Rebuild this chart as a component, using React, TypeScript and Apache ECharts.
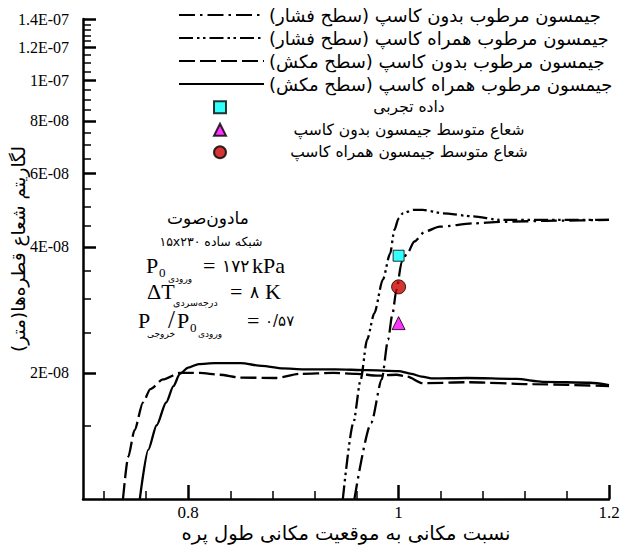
import React, { useEffect, useRef } from "react";
import * as echarts from "echarts";

// ---- data (x = spatial ratio, y = droplet radius in metres) ----
const xNoCuspPressure = [0.958, 0.974, 0.984, 0.990, 0.994, 0.998, 1.003, 1.008, 1.015, 1.025, 1.039, 1.071, 1.096, 1.150, 1.200];
const yNoCuspPressure = [1.0e-8, 1.52e-8, 1.93e-8, 2.40e-8, 2.75e-8, 3.16e-8, 3.69e-8, 3.85e-8, 4.12e-8, 4.35e-8, 4.47e-8, 4.55e-8, 4.59e-8, 4.62e-8, 4.64e-8];

const xCuspPressure = [0.947, 0.957, 0.964, 0.970, 0.977, 0.985, 0.992, 0.996, 1.000, 1.004, 1.014, 1.023, 1.042, 1.071, 1.096, 1.200];
const yCuspPressure = [1.0e-8, 1.52e-8, 1.93e-8, 2.40e-8, 2.78e-8, 3.34e-8, 3.86e-8, 4.39e-8, 4.68e-8, 4.81e-8, 4.90e-8, 4.90e-8, 4.81e-8, 4.73e-8, 4.64e-8, 4.64e-8];

const xNoCuspSuction = [0.738, 0.743, 0.749, 0.757, 0.764, 0.776, 0.792, 0.811, 0.830, 0.849, 0.884, 0.906, 0.938, 0.960, 0.980, 0.998, 1.008, 1.023, 1.065, 1.128, 1.200];
const yNoCuspSuction = [1.0e-8, 1.26e-8, 1.46e-8, 1.70e-8, 1.83e-8, 1.93e-8, 2.0e-8, 2.0e-8, 1.98e-8, 1.95e-8, 1.945e-8, 1.99e-8, 2.0e-8, 1.99e-8, 1.97e-8, 1.98e-8, 1.96e-8, 1.89e-8, 1.90e-8, 1.88e-8, 1.86e-8];

const xCuspSuction = [0.754, 0.762, 0.770, 0.779, 0.786, 0.792, 0.800, 0.810, 0.825, 0.850, 0.870, 0.890, 0.910, 0.940, 0.970, 1.000, 1.012, 1.022, 1.033, 1.065, 1.112, 1.137, 1.182, 1.200];
const yCuspSuction = [1.0e-8, 1.31e-8, 1.50e-8, 1.70e-8, 1.86e-8, 1.99e-8, 2.06e-8, 2.10e-8, 2.11e-8, 2.11e-8, 2.08e-8, 2.05e-8, 2.04e-8, 2.04e-8, 2.03e-8, 2.02e-8, 1.99e-8, 1.96e-8, 1.94e-8, 1.945e-8, 1.935e-8, 1.905e-8, 1.895e-8, 1.87e-8];

const expX = [1.0];
const expY = [3.81e-8];
const avgNoCuspX = [1.0];
const avgNoCuspY = [2.63e-8];
const avgCuspX = [1.0];
const avgCuspY = [3.21e-8];

const xMajorTicks = [0.8, 1.0, 1.2];
const xMinorTicks = [0.72, 0.76, 0.84, 0.88, 0.92, 0.96, 1.04, 1.08, 1.12, 1.16];
const yMajorTicks = [2e-8, 4e-8, 6e-8, 8e-8, 1e-7, 1.2e-7, 1.4e-7];
const yTickLabels = ["2E-08", "4E-08", "6E-08", "8E-08", "1E-07", "1.2E-07", "1.4E-07"];
const yMinorTicks = [1.5e-8, 2.5e-8, 3e-8, 3.5e-8, 4.5e-8, 5e-8, 5.5e-8, 6.5e-8, 7e-8, 7.5e-8, 8.5e-8, 9e-8, 9.5e-8, 1.05e-7, 1.1e-7, 1.15e-7, 1.24e-7, 1.28e-7, 1.32e-7, 1.36e-7];

const names = {
  noCuspPressure: "جیمسون مرطوب بدون کاسپ (سطح فشار)",
  cuspPressure: "جیمسون مرطوب همراه کاسپ (سطح فشار)",
  noCuspSuction: "جیمسون مرطوب بدون کاسپ (سطح مکش)",
  cuspSuction: "جیمسون مرطوب همراه کاسپ (سطح مکش)",
  exp: "داده تجربی",
  avgNoCusp: "شعاع متوسط جیمسون بدون کاسپ",
  avgCusp: "شعاع متوسط جیمسون همراه کاسپ",
};

const SERIF = "Liberation Serif, Times New Roman, DejaVu Serif, serif";
const FA = "DejaVu Sans";
const rtl = (s: string) => "\u202B" + s + "\u202C";

const pairs = (xs: number[], ys: number[]) => xs.map((x, i) => [x, ys[i]]);

export default function App() {
  const ref = useRef<HTMLDivElement>(null);
  useEffect(() => {
    if (!ref.current) return;
    const chart = echarts.init(ref.current, undefined, { renderer: "svg" });
    const lineBase = (name: string, xs: number[], ys: number[], type: any) => ({
      name,
      type: "line",
      data: pairs(xs, ys),
      symbol: "none",
      smooth: 0.25,
      smoothMonotone: "x",
      xAxisIndex: 0,
      yAxisIndex: 0,
      lineStyle: { color: "#000", width: 2.3, type },
      itemStyle: { color: "#000" },
      z: 3,
    });
    const txt = (text: string, x: number, y: number, size: number, family: string, align = "left") => ({
      type: "text",
      x,
      y,
      style: { text, fill: "#000", fontSize: size, fontFamily: family, textAlign: align, textVerticalAlign: "middle" },
      z: 10,
    });
    const labelFor = (v: number) => {
      const i = yMajorTicks.findIndex((t) => Math.abs(t - v) / t < 1e-6);
      return i >= 0 ? yTickLabels[i] : "";
    };
    chart.setOption({
      animation: false,
      backgroundColor: "#fff",
      textStyle: { fontFamily: SERIF, color: "#000" },
      grid: { left: 83, right: 11, top: 19, bottom: 47, containLabel: false, outerBoundsMode: "none" },
      xAxis: [
        {
          type: "value",
          min: 0.7,
          max: 1.2,
          position: "bottom",
          axisLine: { show: true, onZero: false, lineStyle: { color: "#000", width: 2.5 } },
          axisTick: { show: true, inside: true, length: 14, customValues: xMajorTicks, lineStyle: { color: "#000", width: 2.5 } },
          axisLabel: { show: true, customValues: xMajorTicks, color: "#000", fontFamily: SERIF, fontSize: 17, margin: 5 },
          splitLine: { show: false },
          name: rtl("نسبت مکانی به موقعیت مکانی طول پره"),
          nameLocation: "middle",
          nameGap: 24,
          nameMoveOverlap: false,
          nameTextStyle: { color: "#000", fontFamily: FA, fontSize: 19.5 },
        },
        {
          type: "value",
          min: 0.7,
          max: 1.2,
          position: "bottom",
          axisLine: { show: false, onZero: false },
          axisTick: { show: true, inside: true, length: 8, customValues: xMinorTicks, lineStyle: { color: "#000", width: 1.5 } },
          axisLabel: { show: false },
          splitLine: { show: false },
        },
      ],
      yAxis: [
        {
          type: "log",
          logBase: 10,
          min: 1e-8,
          max: 1.4e-7,
          position: "left",
          axisLine: { show: true, onZero: false, lineStyle: { color: "#000", width: 2.5 } },
          axisTick: { show: true, inside: true, length: 13, customValues: yMajorTicks, lineStyle: { color: "#000", width: 2.5 } },
          axisLabel: { show: true, customValues: yMajorTicks, formatter: labelFor, color: "#000", fontFamily: SERIF, fontSize: 16, margin: 14 },
          splitLine: { show: false },
          minorTick: { show: false },
          name: rtl("لگاریتم شعاع قطره‌ها(متر)"),
          nameLocation: "middle",
          nameGap: 55,
          nameMoveOverlap: false,
          nameTextStyle: { color: "#000", fontFamily: FA, fontSize: 18.5, padding: [0, 0, 0, 20] },
        },
        {
          type: "log",
          logBase: 10,
          min: 1e-8,
          max: 1.4e-7,
          position: "left",
          axisLine: { show: false, onZero: false },
          axisTick: { show: true, inside: true, length: 8, customValues: yMinorTicks, lineStyle: { color: "#000", width: 1.5 } },
          axisLabel: { show: false },
          splitLine: { show: false },
        },
      ],
      legend: [
        {
          data: [names.noCuspPressure, names.cuspPressure, names.noCuspSuction, names.cuspSuction],
          orient: "vertical",
          left: 178,
          top: 3.5,
          padding: 0,
          itemGap: 0,
          itemWidth: 85,
          itemHeight: 14,
          selectedMode: false,
          itemStyle: { opacity: 0 },
          formatter: (n: string) => rtl(n),
          textStyle: { color: "#000", fontFamily: FA, fontSize: 18, lineHeight: 23 },
        },
        {
          data: [names.exp, names.avgNoCusp, names.avgCusp],
          orient: "vertical",
          left: 213,
          top: 96,
          padding: 0,
          itemGap: 0,
          itemWidth: 12,
          itemHeight: 12,
          selectedMode: false,
          formatter: (n: string) => "{c|" + rtl(n) + "}",
          textStyle: {
            color: "#000",
            fontFamily: FA,
            fontSize: 15.5,
            lineHeight: 22.5,
            rich: { c: { width: 356, align: "center", fontFamily: FA, fontSize: 15.5, lineHeight: 22.5, color: "#000" } },
          },
        },
      ],
      series: [
        lineBase(names.noCuspPressure, xNoCuspPressure, yNoCuspPressure, [16, 5, 2.5, 5]),
        lineBase(names.cuspPressure, xCuspPressure, yCuspPressure, [14, 4, 2.5, 3.5, 2.5, 4]),
        lineBase(names.noCuspSuction, xNoCuspSuction, yNoCuspSuction, [16, 5]),
        lineBase(names.cuspSuction, xCuspSuction, yCuspSuction, "solid"),
        {
          name: names.exp,
          type: "scatter",
          data: pairs(expX, expY),
          symbol: "rect",
          symbolSize: 11,
          itemStyle: { color: "#00FFFF", borderColor: "#000", borderWidth: 1 },
          z: 5,
        },
        {
          name: names.avgNoCusp,
          type: "scatter",
          data: pairs(avgNoCuspX, avgNoCuspY),
          symbol: "triangle",
          symbolSize: 13,
          itemStyle: { color: "#FF00FF", borderColor: "#000", borderWidth: 1 },
          z: 5,
        },
        {
          name: names.avgCusp,
          type: "scatter",
          data: pairs(avgCuspX, avgCuspY),
          symbol: "circle",
          symbolSize: 14,
          itemStyle: { color: "#CC0000", borderColor: "#000", borderWidth: 1 },
          z: 5,
        },
      ],
      graphic: [
        txt("مادون‌صوت", 208, 218, 17, FA, "center"),
        txt(rtl("شبکه ساده ۱۵x۲۳۰"), 211, 241, 12.5, FA, "center"),
        // P0 inlet = 172 kPa
        txt("P", 146, 265, 22, SERIF),
        txt("0", 159, 272, 13, SERIF),
        txt("ورودی", 168, 279, 9, FA),
        txt("=", 203, 265, 22, SERIF),
        txt("۱۷۲", 222, 266, 17, FA),
        txt("kPa", 252, 265, 22, SERIF),
        // dT subcooling = 8 K
        txt("ΔT", 147, 291, 22, SERIF),
        txt("درجه‌سردی", 173, 302, 9.5, FA),
        txt("=", 230, 291, 22, SERIF),
        txt("۸", 250, 292, 17, FA),
        txt("K", 265, 291, 22, SERIF),
        // P outlet / P0 inlet = 0.57
        txt("P", 138, 320, 22, SERIF),
        txt("خروجی", 147, 334, 9, FA),
        txt("/", 168, 319, 25, SERIF),
        txt("P", 177, 320, 22, SERIF),
        txt("0", 190, 327, 13, SERIF),
        txt("ورودی", 198, 334, 9, FA),
        txt("=", 247, 320, 22, SERIF),
        txt("۰/۵۷", 265, 321, 15, FA),
      ],
    });
    return () => chart.dispose();
  }, []);
  return <div ref={ref} style={{ position: "absolute", left: 0, top: 0, width: 620, height: 546 }} />;
}
